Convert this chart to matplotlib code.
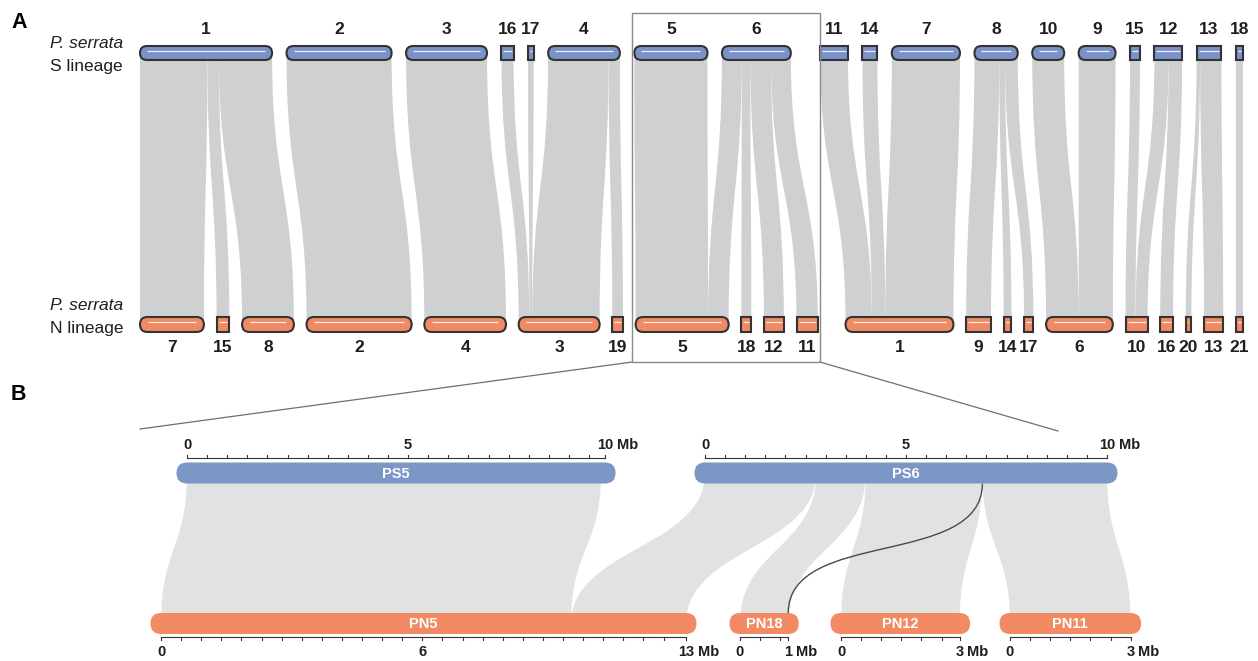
import matplotlib.pyplot as plt
import numpy as np
from matplotlib.patches import FancyBboxPatch, Rectangle, PathPatch
from matplotlib.path import Path

plt.rcParams['font.family'] = ['Liberation Sans', 'DejaVu Sans']

# ---- panel A : chromosomes in display order, lengths in Mb
s_names = ['1', '2', '3', '16', '17', '4', '5', '6', '11', '14', '7', '8', '10', '9', '15', '12', '13', '18']
s_len = [18.6, 14.8, 11.4, 1.7, 0.8, 10.1, 10.3, 9.7, 3.9, 2.1, 9.6, 6.1, 4.5, 5.2, 1.4, 3.9, 3.5, 1.0]
n_names = ['7', '15', '8', '2', '4', '3', '19', '5', '18', '12', '11', '1', '9', '14', '17', '6', '10', '16', '20', '13', '21']
n_len = [9.0, 1.8, 7.3, 14.8, 11.5, 11.4, 1.5, 13.1, 1.4, 2.8, 3.0, 15.2, 3.5, 1.1, 1.3, 9.4, 3.1, 1.8, 0.8, 2.7, 1.0]

# syntenic blocks: S chrom, S start, S end, N chrom, N start, N end (Mb)
links_a = [
    ('1', 0.0, 9.5, '7', 0.0, 9.0),
    ('1', 9.5, 11.1, '15', 0.0, 1.8),
    ('1', 11.1, 18.6, '8', 0.0, 7.3),
    ('2', 0.0, 14.8, '2', 0.0, 14.8),
    ('3', 0.0, 11.4, '4', 0.0, 11.5),
    ('16', 0.0, 1.7, '3', 0.0, 1.5),
    ('17', 0.0, 0.8, '3', 1.5, 1.9),
    ('4', 0.0, 8.5, '3', 1.9, 11.4),
    ('4', 8.5, 10.1, '19', 0.0, 1.5),
    ('5', 0.0, 10.3, '5', 0.0, 10.2),
    ('6', 0.0, 2.8, '5', 10.2, 13.1),
    ('6', 2.8, 4.0, '18', 0.0, 1.4),
    ('6', 4.0, 6.9, '12', 0.0, 2.8),
    ('6', 6.9, 9.7, '11', 0.0, 3.0),
    ('11', 0.0, 3.9, '1', 0.0, 3.7),
    ('14', 0.0, 2.1, '1', 3.7, 5.6),
    ('7', 0.0, 9.6, '1', 5.6, 15.2),
    ('8', 0.0, 3.5, '9', 0.0, 3.5),
    ('8', 3.5, 4.3, '14', 0.0, 1.1),
    ('8', 4.3, 6.1, '17', 0.0, 1.3),
    ('10', 0.0, 4.5, '6', 0.0, 4.6),
    ('9', 0.0, 5.2, '6', 4.6, 9.4),
    ('15', 0.0, 1.4, '10', 0.0, 1.4),
    ('12', 0.0, 2.0, '10', 1.4, 3.1),
    ('12', 2.0, 3.9, '16', 0.0, 1.8),
    ('13', 0.0, 0.5, '20', 0.0, 0.8),
    ('13', 0.5, 3.5, '13', 0.0, 2.7),
    ('18', 0.0, 1.0, '21', 0.0, 1.0),
]

# ---- panel B : zoom on PS5/PS6
b_top = ['PS5', 'PS6']
b_top_len = [10.4, 10.0]
b_bot = ['PN5', 'PN18', 'PN12', 'PN11']
b_bot_len = [13.06, 1.2, 2.95, 3.0]
b_ticklabels = {
    'PS5': [(0, '0'), (5.5, '5'), (10.4, '10 Mb')],
    'PS6': [(0, '0'), (5.0, '5'), (10.0, '10 Mb')],
    'PN5': [(0, '0'), (6.5, '6'), (13.06, '13 Mb')],
    'PN18': [(0, '0'), (1.2, '1 Mb')],
    'PN12': [(0, '0'), (2.95, '3 Mb')],
    'PN11': [(0, '0'), (3.0, '3 Mb')],
}
links_b = [
    ('PS5', 0.0, 10.3, 'PN5', 0.0, 10.2),
    ('PS6', 0.0, 2.77, 'PN5', 10.2, 13.06),
    ('PS6', 2.77, 4.0, 'PN18', 0.0, 1.2),
    ('PS6', 4.0, 6.9, 'PN12', 0.0, 2.95),
    ('PS6', 6.9, 10.0, 'PN11', 0.0, 3.0),
]
line_b = ('PS6', 6.9, 'PN18', 1.2)

BLUE = '#7a92c7'
ORANGE = '#f08a64'
BLUE_B = '#7c96c6'
ORANGE_B = '#f28a63'
GREY_A = '#cfd0d2'
GREY_B = '#e1e2e2'
EDGE = '#333333'
TXT = '#1e1e1e'

fig = plt.figure(figsize=(12.58, 6.61), dpi=100)
ax = fig.add_axes([0, 0, 1, 1])
ax.set_xlim(0, 1258)
ax.set_ylim(661, 0)
ax.axis('off')


def layout(lengths, k, x0, x1, brk, extra):
    n = len(lengths)
    g = (x1 - x0 - sum(lengths) * k - extra) / (n - 1)
    starts = []
    x = x0
    for i, L in enumerate(lengths):
        starts.append(x)
        x += L * k + g
        if i == brk:
            x += extra
    return starts


def ribbon(xt0, xt1, yt, xb0, xb1, yb, color, z=1):
    ym = (yt + yb) / 2
    verts = [(xt0, yt), (xt0, ym), (xb0, ym), (xb0, yb), (xb1, yb),
             (xb1, ym), (xt1, ym), (xt1, yt), (xt0, yt)]
    codes = [Path.MOVETO, Path.CURVE4, Path.CURVE4, Path.CURVE4, Path.LINETO,
             Path.CURVE4, Path.CURVE4, Path.CURVE4, Path.CLOSEPOLY]
    ax.add_patch(PathPatch(Path(verts, codes), fc=color, ec='none', zorder=z))


def bar_a(x0, w, yc, h, color):
    if w > 30:
        p = FancyBboxPatch((x0, yc - h / 2), w, h, boxstyle='round,pad=0,rounding_size=%f' % (h / 2),
                           fc=color, ec=EDGE, lw=1.5, zorder=3)
        inset = h / 2
    else:
        p = Rectangle((x0, yc - h / 2), w, h, fc=color, ec=EDGE, lw=1.5, zorder=3)
        inset = 2
    ax.add_patch(p)
    ax.plot([x0 + inset, x0 + w - inset], [yc - h * 0.15, yc - h * 0.15], color='white',
            lw=0.9, alpha=0.85, zorder=4, solid_capstyle='butt')


# ================= panel A
KA = 7.1
s_x = layout(s_len, KA, 140, 1243, s_names.index('6'), 15)
n_x = layout(n_len, KA, 140, 1243, n_names.index('11'), 15)
s_pos = dict(zip(s_names, s_x))
n_pos = dict(zip(n_names, n_x))
y_s, y_n = 53, 324.5

for sc, a0, a1, nc, b0, b1 in links_a:
    ribbon(s_pos[sc] + a0 * KA, s_pos[sc] + a1 * KA, y_s,
           n_pos[nc] + b0 * KA, n_pos[nc] + b1 * KA, y_n, GREY_A)

for name, x, L in zip(s_names, s_x, s_len):
    bar_a(x, L * KA, y_s, 14, BLUE)
    ax.text(x + L * KA / 2, 30, name, ha='center', va='center', fontsize=12.5, fontweight='bold', color=TXT)
for name, x, L in zip(n_names, n_x, n_len):
    bar_a(x, L * KA, y_n, 15, ORANGE)
    ax.text(x + L * KA / 2, 348, name, ha='center', va='center', fontsize=12.5, fontweight='bold', color=TXT)

ax.text(123, 44, 'P. serrata', ha='right', va='center', fontsize=12.5, style='italic', color=TXT)
ax.text(123, 67, 'S lineage', ha='right', va='center', fontsize=12.5, color=TXT)
ax.text(123, 305, 'P. serrata', ha='right', va='center', fontsize=12.5, style='italic', color=TXT)
ax.text(123, 328, 'N lineage', ha='right', va='center', fontsize=12.5, color=TXT)
ax.text(11, 22, 'A', ha='left', va='center', fontsize=15.5, fontweight='bold', color='black')
ax.text(11, 395, 'B', ha='left', va='center', fontsize=15.5, fontweight='bold', color='black')

# zoom box
bx0 = min(s_pos['5'], n_pos['5']) - 2
bx1 = max(s_pos['6'] + s_len[s_names.index('6')] * KA, n_pos['11'] + n_len[n_names.index('11')] * KA) + 2
ax.add_patch(Rectangle((bx0, 13), bx1 - bx0, 349, fc='none', ec='#8a8a8a', lw=1.0, zorder=5))
ax.plot([bx0, 140], [362, 429], color='#6f6f6f', lw=0.9)
ax.plot([bx1, 1058], [362, 431], color='#6f6f6f', lw=0.9)

# ================= panel B
KB = 40.2
b_pos = {'PS5': 187, 'PS6': 705, 'PN5': 161, 'PN18': 740, 'PN12': 841, 'PN11': 1010}
b_len = dict(zip(b_top + b_bot, b_top_len + b_bot_len))
yb_top, yb_bot, hb = 473, 623.5, 21

for sc, a0, a1, nc, b0, b1 in links_b:
    ribbon(b_pos[sc] + a0 * KB, b_pos[sc] + a1 * KB, yb_top,
           b_pos[nc] + b0 * KB, b_pos[nc] + b1 * KB, yb_bot, GREY_B)

sc, a, nc, b = line_b
xt, xb = b_pos[sc] + a * KB, b_pos[nc] + b * KB
ym = (yb_top + hb / 2 + yb_bot - hb / 2) / 2
path = Path([(xt, yb_top + hb / 2), (xt, ym + 20), (xb, ym - 20), (xb, yb_bot - hb / 2)],
            [Path.MOVETO, Path.CURVE4, Path.CURVE4, Path.CURVE4])
ax.add_patch(PathPatch(path, fc='none', ec='#4a4a4a', lw=1.0, zorder=2))


def scale_label(x, y, txt):
    fs = 10.5
    if txt.endswith(' Mb'):
        num = txt[:-3]
        ax.text(x, y, num, ha='center', va='center', fontsize=fs, fontweight='bold', color=TXT)
        ax.annotate('Mb', xy=(x, y), xytext=(0.556 * fs * len(num) / 2 + 0.25 * fs, 0),
                    textcoords='offset points', ha='left', va='center', fontsize=fs,
                    fontweight='bold', color=TXT)
    else:
        ax.text(x, y, txt, ha='center', va='center', fontsize=fs, fontweight='bold', color=TXT)


def bar_b(name, yc, color, top):
    x0 = b_pos[name]
    L = b_len[name]
    x1 = x0 + L * KB
    r = hb / 2
    ax.add_patch(FancyBboxPatch((x0 - r, yc - hb / 2), x1 - x0 + 2 * r, hb,
                                boxstyle='round,pad=0,rounding_size=%f' % r,
                                fc=color, ec='none', zorder=3))
    ax.text((x0 + x1) / 2, yc + 0.5, name, ha='center', va='center', fontsize=10.5,
            fontweight='bold', color='white', zorder=4)
    # scale bar
    if top:
        yl, dt, ytxt = yc - hb / 2 - 4.5, -3.5, 445
    else:
        yl, dt, ytxt = yc + hb / 2 + 2.5, 3.5, 652
    ax.plot([x0, x1], [yl, yl], color='#333333', lw=0.8)
    ticks = list(np.arange(0, L + 1e-6, 0.5))
    if L - ticks[-1] > 0.15:
        ticks.append(L)
    elif ticks[-1] != L:
        ticks[-1] = L
    for t in ticks:
        ax.plot([x0 + t * KB] * 2, [yl, yl + dt], color='#333333', lw=0.8)
    for t, txt in b_ticklabels[name]:
        scale_label(x0 + t * KB, ytxt, txt)


for name in b_top:
    bar_b(name, yb_top, BLUE_B, True)
for name in b_bot:
    bar_b(name, yb_bot, ORANGE_B, False)

fig.savefig('out.png', dpi=100)
